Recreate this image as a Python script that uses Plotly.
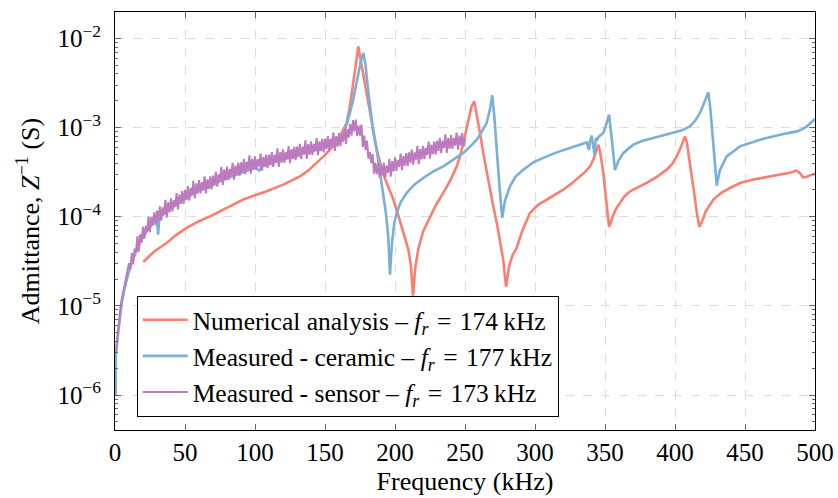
import plotly.graph_objects as go

# ---------------- data (frequency in kHz, admittance in S) ----------------
red_freq = [20.2, 28, 36.9, 44, 51.2, 60, 67.9, 80, 91.6, 100, 108.4, 120.2,
            132.1, 138, 144.1, 149.5, 154.9, 158, 160.7, 163, 165.5, 168, 170.2, 172.2,
            173.8, 175.2, 177, 179.8, 182, 184.5, 187, 191.6, 195, 198.8, 202, 204.8,
            207.3, 209.5, 211.3, 212.9, 214.5, 216.6, 220, 225, 229.5, 234.5, 239.5, 244.1,
            246.5, 248.8, 250.7, 252.4, 254.6, 256.6, 258.5, 260.7, 263, 265.5, 268, 270.2,
            273, 275, 277.3, 279.3, 281.5, 284, 286.9, 291, 296.4, 302, 308.4, 314,
            320.2, 326, 332.1, 336, 339.3, 342, 343.9, 345.4, 346.8, 348.8, 350.8, 352.9,
            355, 357.5, 360.7, 364, 367.9, 374, 379.8, 387, 394.1, 398, 401.2, 404.2,
            405.8, 407.1, 408.5, 410, 411.9, 414, 415.8, 417.4, 419.5, 422, 427.4, 433,
            439.3, 447, 456, 466, 475, 482, 486.9, 489, 491.6, 494, 496.4, 500]
red_adm = [3.11e-5, 4.07e-5, 5.08e-5, 6.3e-5, 7.48e-5, 8.9e-5, 1.01e-4, 1.26e-4, 1.56e-4, 1.74e-4, 1.93e-4, 2.29e-4,
           2.84e-4, 3.29e-4, 4.0e-4, 4.84e-4, 5.96e-4, 6.78e-4, 7.96e-4, 9.46e-4, 1.13e-3, 1.81e-3, 3.16e-3, 5.48e-3,
           8.1e-3, 6.08e-3, 4.24e-3, 2.5e-3, 1.5e-3, 9.0e-4, 5.6e-4, 3.0e-4, 2.2e-4, 1.56e-4, 1.08e-4, 7.8e-5,
           5.7e-5, 4.3e-5, 2.9e-5, 1.3e-5, 2.7e-5, 4.3e-5, 6.8e-5, 1.01e-4, 1.38e-4, 1.85e-4, 2.55e-4, 3.67e-4,
           4.8e-4, 6.71e-4, 9.0e-4, 1.23e-3, 1.7e-3, 1.97e-3, 1.4e-3, 8.7e-4, 5.2e-4, 3.1e-4, 1.95e-4, 1.31e-4,
           8.0e-5, 5.5e-5, 3.3e-5, 1.64e-5, 2.8e-5, 3.7e-5, 4.47e-5, 7.0e-5, 1.1e-4, 1.35e-4, 1.56e-4, 1.78e-4,
           2.01e-4, 2.35e-4, 2.84e-4, 3.2e-4, 3.67e-4, 4.5e-4, 5.6e-4, 6.43e-4, 5.0e-4, 3.1e-4, 1.55e-4, 7.7e-5,
           9.5e-5, 1.2e-4, 1.43e-4, 1.7e-4, 1.93e-4, 2.15e-4, 2.39e-4, 2.8e-4, 3.37e-4, 3.9e-4, 4.75e-4, 6.0e-4,
           7.2e-4, 7.96e-4, 6.8e-4, 4.8e-4, 3.1e-4, 1.7e-4, 1.05e-4, 7.7e-5, 9.0e-5, 1.15e-4, 1.56e-4, 1.85e-4,
           2.1e-4, 2.4e-4, 2.61e-4, 2.8e-4, 2.96e-4, 3.12e-4, 3.29e-4, 3.1e-4, 2.77e-4, 2.8e-4, 2.91e-4, 3.04e-4]

blue_freq = [0.5, 0.6, 1.5, 2.4, 3.5, 4.8, 6.5, 8.4, 10, 12, 14, 16,
             18, 20, 22, 24, 26, 28, 30, 30.8, 31.6, 34, 36, 38,
             40, 43, 46, 50, 53, 56, 60, 63, 65, 70, 75, 80,
             85, 90, 95, 100, 103, 105, 110, 115, 120, 125, 130, 135,
             140, 145, 150, 155, 158, 160.7, 163, 165.5, 168, 170.2, 172, 173.8,
             175.8, 177.4, 178.8, 180.5, 182.1, 184.5, 186.9, 189.3, 191.6, 193.5, 195.2, 196.4,
             197.8, 199.5, 201.2, 204, 208.4, 214, 220.2, 227, 234.5, 241, 248.8, 254,
             258.4, 262, 265.5, 267.8, 269.5, 271, 272.6, 274.6, 276.6, 278.5, 282.1, 286,
             291.6, 299, 308.4, 316, 325, 332, 337, 338.5, 339.3, 340.5, 341.5, 342.5,
             343.5, 344.5, 345.5, 348.8, 351, 352.9, 355, 357.1, 359.5, 363.1, 370.2, 377,
             384.5, 398.8, 405, 410.7, 414.5, 417.9, 421, 423.8, 425.3, 426.9, 428.5, 429.8,
             432, 436.9, 446.4, 460.7, 475, 486.9, 491, 494.1, 497, 500]
blue_adm = [1.0e-6, 2.8e-6, 3.9e-6, 5.4e-6, 7.8e-6, 1.08e-5, 1.48e-5, 2.0e-5, 2.45e-5, 3.1e-5, 3.7e-5, 4.5e-5,
            5.2e-5, 5.9e-5, 6.7e-5, 7.4e-5, 8.2e-5, 8.8e-5, 9.3e-5, 6.3e-5, 9.6e-5, 1.04e-4, 1.1e-4, 1.2e-4,
            1.25e-4, 1.33e-4, 1.46e-4, 1.6e-4, 1.7e-4, 1.8e-4, 1.98e-4, 2.02e-4, 2.1e-4, 2.3e-4, 2.5e-4, 2.7e-4,
            2.9e-4, 3.1e-4, 3.35e-4, 3.55e-4, 3.3e-4, 3.7e-4, 3.9e-4, 4.15e-4, 4.4e-4, 4.65e-4, 4.9e-4, 5.15e-4,
            5.4e-4, 5.7e-4, 6.0e-4, 6.4e-4, 6.9e-4, 7.5e-4, 8.4e-4, 1.08e-3, 1.5e-3, 2.06e-3, 2.9e-3, 4.1e-3,
            5.7e-3, 6.86e-3, 5.2e-3, 2.9e-3, 1.7e-3, 8.8e-4, 5.65e-4, 3.1e-4, 1.85e-4, 1.1e-4, 6.0e-5, 2.24e-5,
            5.0e-5, 8.5e-5, 1.1e-4, 1.45e-4, 1.85e-4, 2.3e-4, 2.72e-4, 3.2e-4, 3.67e-4, 4.3e-4, 5.19e-4, 6.2e-4,
            7.31e-4, 9.0e-4, 1.13e-3, 1.6e-3, 2.3e-3, 1.3e-3, 5.65e-4, 2.2e-4, 9.7e-5, 1.5e-4, 2.19e-4, 2.8e-4,
            3.37e-4, 4.1e-4, 4.75e-4, 5.3e-4, 5.9e-4, 6.4e-4, 6.8e-4, 5.6e-4, 7.0e-4, 8.1e-4, 6.5e-4, 5.0e-4,
            7.6e-4, 7.4e-4, 7.9e-4, 8.69e-4, 1.1e-3, 1.4e-3, 7.0e-4, 3.33e-4, 4.2e-4, 5.19e-4, 6.43e-4, 7.1e-4,
            7.64e-4, 8.69e-4, 9.3e-4, 1.03e-3, 1.2e-3, 1.46e-3, 1.9e-3, 2.48e-3, 1.6e-3, 8.69e-4, 4.0e-4, 2.23e-4,
            3.3e-4, 4.75e-4, 6.15e-4, 7.31e-4, 8.32e-4, 9.06e-4, 9.6e-4, 1.03e-3, 1.12e-3, 1.25e-3]

# sensor measurement: start-up points, then one sample per kHz from 10 to 250 kHz
purple_freq = [0.7, 1.5, 2.4, 3.5, 4.8, 6.5, 8.4] + list(range(10, 251))
purple_adm = [3.0e-6, 4.2e-6, 5.9e-6, 8.5e-6, 1.18e-5, 1.6e-5, 2.15e-5,
              # 10-19
              3.02e-5, 2.55e-5, 3.92e-5, 2.92e-5, 4.38e-5, 3.94e-5, 6.08e-5, 4.06e-5, 6.35e-5, 5.13e-5,
              # 20-29
              7.69e-5, 5.69e-5, 7.89e-5, 6.84e-5, 1.01e-4, 6.73e-5, 9.98e-5, 7.94e-5, 1.12e-4, 8.1e-5,
              # 30-39
              1.17e-4, 9.14e-5, 1.31e-4, 9.03e-5, 1.27e-4, 1.07e-4, 1.55e-4, 9.79e-5, 1.46e-4, 1.12e-4,
              # 40-49
              1.61e-4, 1.15e-4, 1.54e-4, 1.29e-4, 1.84e-4, 1.21e-4, 1.77e-4, 1.39e-4, 1.94e-4, 1.39e-4,
              # 50-59
              2.0e-4, 1.55e-4, 2.2e-4, 1.51e-4, 2.1e-4, 1.76e-4, 2.54e-4, 1.6e-4, 2.36e-4, 1.81e-4,
              # 60-69
              2.57e-4, 1.83e-4, 2.44e-4, 2.02e-4, 2.84e-4, 1.83e-4, 2.62e-4, 2.05e-4, 2.84e-4, 2.03e-4,
              # 70-79
              2.89e-4, 2.24e-4, 3.18e-4, 2.17e-4, 2.99e-4, 2.51e-4, 3.62e-4, 2.28e-4, 3.38e-4, 2.58e-4,
              # 80-89
              3.63e-4, 2.57e-4, 3.43e-4, 2.85e-4, 4.03e-4, 2.61e-4, 3.75e-4, 2.92e-4, 4.04e-4, 2.87e-4,
              # 90-99
              4.08e-4, 3.13e-4, 4.42e-4, 3.0e-4, 4.13e-4, 3.42e-4, 4.89e-4, 3.04e-4, 4.46e-4, 3.38e-4,
              # 100-109
              4.76e-4, 3.35e-4, 4.43e-4, 3.64e-4, 5.11e-4, 3.28e-4, 4.68e-4, 3.62e-4, 4.96e-4, 3.5e-4,
              # 110-119
              4.95e-4, 3.79e-4, 5.32e-4, 3.61e-4, 4.95e-4, 4.1e-4, 5.84e-4, 3.63e-4, 5.31e-4, 4.04e-4,
              # 120-129
              5.71e-4, 4.03e-4, 5.34e-4, 4.41e-4, 6.2e-4, 3.99e-4, 5.71e-4, 4.43e-4, 6.08e-4, 4.31e-4,
              # 130-139
              6.1e-4, 4.66e-4, 6.56e-4, 4.44e-4, 6.09e-4, 5.04e-4, 7.19e-4, 4.46e-4, 6.53e-4, 4.96e-4,
              # 140-149
              7.02e-4, 4.95e-4, 6.56e-4, 5.41e-4, 7.61e-4, 4.9e-4, 7.01e-4, 5.44e-4, 7.47e-4, 5.28e-4,
              # 150-159
              7.48e-4, 5.72e-4, 8.03e-4, 5.44e-4, 7.46e-4, 6.17e-4, 8.79e-4, 5.46e-4, 8.02e-4, 6.12e-4,
              # 160-169
              8.69e-4, 6.18e-4, 8.28e-4, 6.94e-4, 9.92e-4, 6.56e-4, 9.63e-4, 7.74e-4, 1.1e-3, 8.12e-4,
              # 170-179
              1.21e-3, 9.05e-4, 1.23e-3, 8.02e-4, 1.05e-3, 8.1e-4, 1.08e-3, 6.08e-4, 8.14e-4, 5.61e-4,
              # 180-189
              7.14e-4, 4.48e-4, 5.34e-4, 4.0e-4, 5.08e-4, 3.04e-4, 4.03e-4, 3.01e-4, 3.98e-4, 2.76e-4,
              # 190-199
              3.81e-4, 2.9e-4, 4.05e-4, 2.73e-4, 3.73e-4, 3.1e-4, 4.46e-4, 2.81e-4, 4.2e-4, 3.23e-4,
              # 200-209
              4.63e-4, 3.27e-4, 4.34e-4, 3.61e-4, 5.11e-4, 3.32e-4, 4.78e-4, 3.74e-4, 5.17e-4, 3.69e-4,
              # 210-219
              5.26e-4, 4.02e-4, 5.66e-4, 3.83e-4, 5.27e-4, 4.37e-4, 6.22e-4, 3.88e-4, 5.73e-4, 4.39e-4,
              # 220-229
              6.25e-4, 4.43e-4, 5.92e-4, 4.91e-4, 6.97e-4, 4.49e-4, 6.44e-4, 5.03e-4, 6.97e-4, 4.97e-4,
              # 230-239
              7.1e-4, 5.43e-4, 7.64e-4, 5.17e-4, 7.11e-4, 5.88e-4, 8.4e-4, 5.21e-4, 7.64e-4, 5.81e-4,
              # 240-250
              8.24e-4, 5.78e-4, 7.63e-4, 6.27e-4, 8.78e-4, 5.66e-4, 8.11e-4, 6.3e-4, 8.67e-4, 6.11e-4, 7.5e-4]

SP = "\u2004"   # math-style spacing around '='
TH = "\u2009"   # thin space before the unit
series_names = [f"Numerical analysis – <i>f<sub>r</sub></i>{SP}={SP}174{TH}kHz",
                f"Measured - ceramic – <i>f<sub>r</sub></i>{SP}={SP}177{TH}kHz",
                f"Measured - sensor – <i>f<sub>r</sub></i>{SP}={SP}173{TH}kHz"]

x_ticks = [0, 50, 100, 150, 200, 250, 300, 350, 400, 450, 500]
y_ticks = [1e-6, 1e-5, 1e-4, 1e-3, 1e-2]
y_ticktext = ["10<sup>−6</sup>", "10<sup>−5</sup>", "10<sup>−4</sup>",
              "10<sup>−3</sup>", "10<sup>−2</sup>"]
y_minor = [m * 10.0 ** e for e in range(-7, -1) for m in range(2, 10)]

RED = "#FA7F70"
BLUE = "#7AAFD6"
PURPLE = "#BD7ABE"

fig = go.Figure()
fig.add_trace(go.Scatter(x=red_freq, y=red_adm, mode="lines", name=series_names[0],
                         line=dict(color=RED, width=2.6)))
fig.add_trace(go.Scatter(x=blue_freq, y=blue_adm, mode="lines", name=series_names[1],
                         line=dict(color=BLUE, width=2.6)))
fig.add_trace(go.Scatter(x=purple_freq, y=purple_adm, mode="lines", name=series_names[2],
                         line=dict(color=PURPLE, width=2.0)))

FONT = "Liberation Serif"
fig.update_layout(
    width=838, height=498,
    margin=dict(l=115, r=23, t=12, b=68, pad=0),
    paper_bgcolor="white", plot_bgcolor="white",
    font=dict(family=FONT, size=25, color="black"),
    showlegend=True,
    legend=dict(x=0.031, y=0.032, xanchor="left", yanchor="bottom",
                bordercolor="black", borderwidth=1, bgcolor="white",
                font=dict(family=FONT, size=25.5), tracegroupgap=0, itemwidth=45),
)
fig.update_xaxes(
    range=[0, 500], tickmode="array", tickvals=x_ticks, automargin=False,
    showline=True, linecolor="black", linewidth=1, mirror="ticks",
    ticks="inside", ticklen=6, tickcolor="#666666", tickwidth=1,
    showgrid=True, gridcolor="#dddddd", griddash="dash", gridwidth=1,
    zeroline=False, tickfont=dict(size=25),
    title=dict(text="Frequency (kHz)", standoff=6, font=dict(size=26)),
)
fig.update_yaxes(
    type="log", range=[-6.392, -1.704], automargin=False,
    tickmode="array", tickvals=y_ticks, ticktext=y_ticktext,
    showline=True, linecolor="black", linewidth=1, mirror="ticks",
    ticks="inside", ticklen=6, tickcolor="#666666", tickwidth=1,
    minor=dict(tickmode="array", tickvals=y_minor, ticks="inside", ticklen=3,
               tickcolor="#666666", showgrid=False),
    showgrid=True, gridcolor="#dddddd", griddash="dash", gridwidth=1,
    zeroline=False, ticklabelstandoff=8, tickfont=dict(size=25),
    title=dict(text="Admittance, <i>Z</i><sup>−1</sup> (S)", standoff=10, font=dict(size=26)),
)

fig.write_html("out.html", config={"displayModeBar": False},
               post_script="document.body.style.margin='0px';")
